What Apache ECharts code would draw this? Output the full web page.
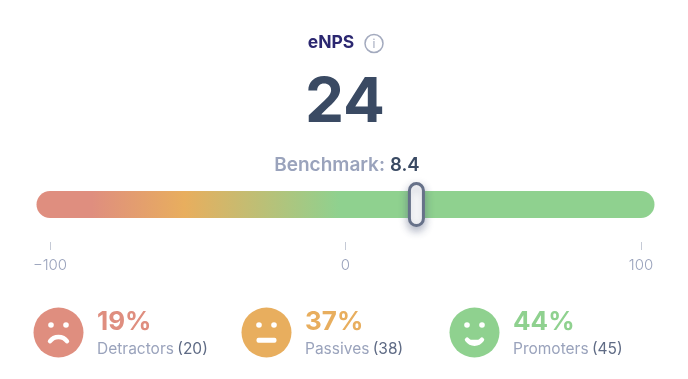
<!DOCTYPE html>
<html><head><meta charset="utf-8">
<style>html,body{margin:0;padding:0;background:#fff}#c{width:688px;height:379px}</style>
<script src="https://cdn.jsdelivr.net/npm/echarts@6/dist/echarts.min.js"></script>
</head><body><div id="c"></div>
<script>
const scoreValue = 24;
const benchmarkValue = 8.4;
const axisRange = [-100, 100];
const axisInterval = 100;
const groupNames = ['Detractors', 'Passives', 'Promoters'];
const groupPercents = [19, 37, 44];
const groupCounts = [20, 38, 45];
const groupColors = ['#DF8E7F', '#E8AE5E', '#8FD18F'];
const FONT = 'Inter, "Open Sans", sans-serif';

const chart = echarts.init(document.getElementById('c'), null, {renderer: 'canvas'});
const FACE_X = [58.5, 266.5, 474.5], FACE_Y = 332.5, TEXT_X = [97, 305, 513];

const mouths = [
  {type: 'bezierCurve', shape: {x1: -8.5, y1: 8.8, x2: 8.5, y2: 8.8, cpx1: -4.5, cpy1: 3, cpx2: 4.5, cpy2: 3},
   style: {stroke: '#fff', fill: null, lineWidth: 4.4, lineCap: 'round'}},
  {type: 'rect', shape: {x: -10, y: 5.2, width: 20, height: 5, r: 2}, style: {fill: '#fff'}},
  {type: 'bezierCurve', shape: {x1: -7.5, y1: 7.2, x2: 7.5, y2: 7.2, cpx1: -3.5, cpy1: 12.5, cpx2: 3.5, cpy2: 12.5},
   style: {stroke: '#fff', fill: '#fff', lineWidth: 4.4, lineCap: 'round'}}
];

const graphics = [
  {type: 'text', x: 331, y: 43, style: {text: 'eNPS', font: '700 17.5px ' + FONT, fill: '#2B2770', align: 'center', verticalAlign: 'middle'}},
  {type: 'circle', shape: {cx: 374, cy: 43.5, r: 9}, style: {fill: '#fff', stroke: '#A3AABE', lineWidth: 1.5}},
  {type: 'text', x: 374, y: 44, style: {text: 'i', font: '400 12px ' + FONT, fill: '#A3AABE', align: 'center', verticalAlign: 'middle'}},
  {type: 'text', x: 345, y: 103.5, style: {text: String(scoreValue), font: '700 62px ' + FONT, fill: '#3A4A63', align: 'center', verticalAlign: 'middle'}},
  {type: 'text', x: 385, y: 165, style: {text: 'Benchmark:', font: '600 19px ' + FONT, fill: '#9AA3BC', align: 'right', verticalAlign: 'middle'}},
  {type: 'text', x: 390, y: 165, style: {text: String(benchmarkValue), font: '600 18.5px ' + FONT, fill: '#3A4A63', align: 'left', verticalAlign: 'middle'}}
];
groupNames.forEach((name, i) => {
  graphics.push({type: 'group', x: FACE_X[i], y: FACE_Y, children: [
    {type: 'circle', shape: {cx: 0, cy: 0, r: 25}, style: {fill: groupColors[i]}},
    {type: 'circle', shape: {cx: -7.5, cy: -7.5, r: 2.8}, style: {fill: '#fff'}},
    {type: 'circle', shape: {cx: 7.5, cy: -7.5, r: 2.8}, style: {fill: '#fff'}},
    mouths[i]
  ]});
  graphics.push({type: 'text', x: TEXT_X[i], y: 322, style: {text: groupPercents[i] + '%', font: '700 26px ' + FONT, fill: groupColors[i], align: 'left', verticalAlign: 'middle'}});
  graphics.push({type: 'text', x: TEXT_X[i], y: 349, style: {
    text: '{a|' + name + '} {b|(' + groupCounts[i] + ')}',
    align: 'left', verticalAlign: 'middle',
    rich: {a: {font: '400 15.5px ' + FONT, fill: '#9AA3BC'}, b: {font: '400 15.5px ' + FONT, fill: '#5F6B85'}}
  }});
});

chart.setOption({
  animation: false,
  backgroundColor: '#fff',
  grid: {left: 50, right: 47, top: 191, height: 51, containLabel: false},
  xAxis: {
    type: 'value', min: axisRange[0], max: axisRange[1], interval: axisInterval,
    axisLine: {show: false},
    axisTick: {show: true, length: 8, lineStyle: {color: '#C5CAD6', width: 1}},
    splitLine: {show: false},
    axisLabel: {margin: 16, fontFamily: FONT, fontSize: 15, color: '#9AA3BC', fontWeight: 300,
      formatter: v => String(v).replace('-', '\u2212')}
  },
  yAxis: {type: 'value', min: 0, max: 1, show: false},
  series: [
    {
      type: 'line', silent: true, clip: false, showSymbol: false, symbol: 'none', z: 2,
      data: [[axisRange[0], 0.735], [axisRange[1], 0.735]],
      lineStyle: {width: 27, cap: 'round', color: {
        type: 'linear', global: true, x: 36, y: 0, x2: 655, y2: 0,
        colorStops: [
          {offset: 0, color: groupColors[0]},
          {offset: 0.09, color: groupColors[0]},
          {offset: 0.24, color: groupColors[1]},
          {offset: 0.49, color: groupColors[2]},
          {offset: 1, color: groupColors[2]}
        ]}}
    },
    {
      type: 'custom', silent: true, clip: false, z: 10,
      data: [[scoreValue, 0.735]],
      renderItem: (params, api) => {
        const p = api.coord([api.value(0), api.value(1)]);
        return {type: 'rect', z2: 200, shape: {x: p[0] - 7, y: p[1] - 21, width: 14, height: 42, r: 7},
          style: {fill: '#fff', stroke: '#667189', lineWidth: 3,
            shadowBlur: 9, shadowColor: 'rgba(80,90,125,0.45)', shadowOffsetY: 4}};
      }
    }
  ],
  graphic: graphics
});
</script></body></html>
